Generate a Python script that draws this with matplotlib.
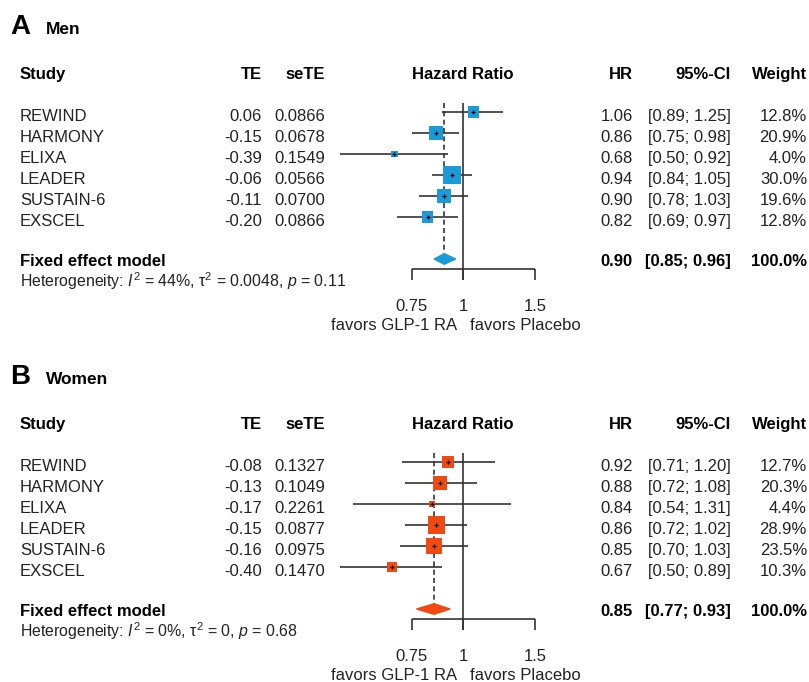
"""Forest plots of GLP-1 RA trials, men and women."""
import numpy as np
import matplotlib.pyplot as plt

plt.rcParams['font.family'] = ['Liberation Sans', 'DejaVu Sans']
plt.rcParams['mathtext.fontset'] = 'custom'
plt.rcParams['mathtext.rm'] = 'Liberation Sans'
plt.rcParams['mathtext.it'] = 'Liberation Sans:italic'

studies = ['REWIND', 'HARMONY', 'ELIXA', 'LEADER', 'SUSTAIN-6', 'EXSCEL']

# Men
men_te = [0.06, -0.15, -0.39, -0.06, -0.11, -0.20]
men_sete = [0.0866, 0.0678, 0.1549, 0.0566, 0.0700, 0.0866]
men_hr = [1.06, 0.86, 0.68, 0.94, 0.90, 0.82]
men_lo = [0.89, 0.75, 0.50, 0.84, 0.78, 0.69]
men_hi = [1.25, 0.98, 0.92, 1.05, 1.03, 0.97]
men_weight = [12.8, 20.9, 4.0, 30.0, 19.6, 12.8]
men_fixed = [0.90, 0.85, 0.96]
men_het = r'Heterogeneity: $I^2$ = 44%, $\mathrm{\tau}^2$ = 0.0048, $p$ = 0.11'

# Women
women_te = [-0.08, -0.13, -0.17, -0.15, -0.16, -0.40]
women_sete = [0.1327, 0.1049, 0.2261, 0.0877, 0.0975, 0.1470]
women_hr = [0.92, 0.88, 0.84, 0.86, 0.85, 0.67]
women_lo = [0.71, 0.72, 0.54, 0.72, 0.70, 0.50]
women_hi = [1.20, 1.08, 1.31, 1.02, 1.03, 0.89]
women_weight = [12.7, 20.3, 4.4, 28.9, 23.5, 10.3]
women_fixed = [0.85, 0.77, 0.93]
women_het = r'Heterogeneity: $I^2$ = 0%, $\mathrm{\tau}^2$ = 0, $p$ = 0.68'

ticks = [0.75, 1, 1.5]

W, H = 809, 682
ROW = 21          # pixels between study rows
FS = 12


def draw_panel(fig, top, bot, letter, title, te, sete, hr, lo, hi, weight,
               fixed, het, color):
    row0 = top + 112
    ylim = ((bot - row0) / ROW, (top - row0) / ROW)
    rect = [0, 1 - bot / H, 1, (bot - top) / H]

    # Text columns
    tax = fig.add_axes(rect)
    tax.set_xlim(0, W)
    tax.set_ylim(*ylim)
    tax.axis('off')

    tax.text(10, -3.7, letter, fontsize=20, fontweight='bold')
    tax.text(46, -3.7, title, fontsize=12.5, fontweight='bold')

    hdr = dict(fontsize=FS, fontweight='bold', va='baseline')
    tax.text(20, -1.57, 'Study', ha='left', **hdr)
    tax.text(262, -1.57, 'TE', ha='right', **hdr)
    tax.text(325, -1.57, 'seTE', ha='right', **hdr)
    tax.text(633, -1.57, 'HR', ha='right', **hdr)
    tax.text(731, -1.57, '95%-CI', ha='right', **hdr)
    tax.text(807, -1.57, 'Weight', ha='right', **hdr)

    txt = dict(fontsize=FS, va='baseline', color='#222222')
    for i, name in enumerate(studies):
        y = i + 0.43
        tax.text(20, y, name, ha='left', **txt)
        tax.text(262, y, f'{te[i]:.2f}', ha='right', **txt)
        tax.text(325, y, f'{sete[i]:.4f}', ha='right', **txt)
        tax.text(633, y, f'{hr[i]:.2f}', ha='right', **txt)
        tax.text(731, y, f'[{lo[i]:.2f}; {hi[i]:.2f}]', ha='right', **txt)
        tax.text(807, y, f'{weight[i]:.1f}%', ha='right', **txt)

    yf = 7.35
    tax.text(20, yf, 'Fixed effect model', ha='left', **hdr)
    tax.text(633, yf, f'{fixed[0]:.2f}', ha='right', **hdr)
    tax.text(731, yf, f'[{fixed[1]:.2f}; {fixed[2]:.2f}]', ha='right', **hdr)
    tax.text(807, yf, '100.0%', ha='right', **hdr)
    tax.text(20, 8.33, het, ha='left', fontsize=11.4, va='baseline',
             color='#222222')

    # Forest plot on a log scale
    fax = fig.add_axes([330 / W, rect[1], 230 / W, rect[3]])
    fax.set_xscale('log')
    fax.set_xlim(np.exp((330 - 463) / 178), np.exp((560 - 463) / 178))
    fax.set_ylim(*ylim)
    fax.axis('off')
    fax.patch.set_alpha(0)

    rows = np.arange(len(studies))
    lc = '#333333'
    fax.hlines(rows, lo, hi, color=lc, lw=1.2, zorder=2)
    side_pt = 3.2 * np.sqrt(weight) * 0.72
    fax.scatter(hr, rows, marker='s', s=side_pt ** 2, color=color,
                edgecolors='none', zorder=3)
    fax.scatter(hr, rows, marker='+', s=9, color='black', lw=0.9, zorder=4)

    ydia, half = 7.0, 0.25
    axis_y, tick_y = 7.48, 8.0
    fax.vlines(1, -0.45, tick_y, color=lc, lw=1.2, zorder=2)
    fax.vlines(fixed[0], -0.45, ydia - half, color=lc, lw=1.2,
               linestyles=(0, (3, 2)), zorder=2)
    fax.fill([fixed[1], fixed[0], fixed[2], fixed[0]],
             [ydia, ydia - half, ydia, ydia + half], color=color, zorder=3)

    fax.hlines(axis_y, ticks[0], ticks[-1], color=lc, lw=1.2)
    fax.vlines(ticks, axis_y, tick_y, color=lc, lw=1.2)
    for t in ticks:
        fax.text(t, 9.48, f'{t:g}', ha='center', va='baseline', fontsize=FS,
                 color='#222222')
    fax.text(0.966, 10.38, 'favors GLP-1 RA', ha='right', va='baseline',
             fontsize=FS, color='#222222')
    fax.text(1.04, 10.38, 'favors Placebo', ha='left', va='baseline',
             fontsize=FS, color='#222222')
    fax.text(1, -1.57, 'Hazard Ratio', ha='center', va='baseline',
             fontsize=FS, fontweight='bold')


fig = plt.figure(figsize=(W / 100, H / 100), dpi=100)
draw_panel(fig, 0, 345, 'A', 'Men', men_te, men_sete, men_hr, men_lo,
           men_hi, men_weight, men_fixed, men_het, '#1a9ad6')
draw_panel(fig, 350, 682, 'B', 'Women', women_te, women_sete, women_hr,
           women_lo, women_hi, women_weight, women_fixed, women_het,
           '#f04a12')
fig.savefig('out.png', dpi=100)
